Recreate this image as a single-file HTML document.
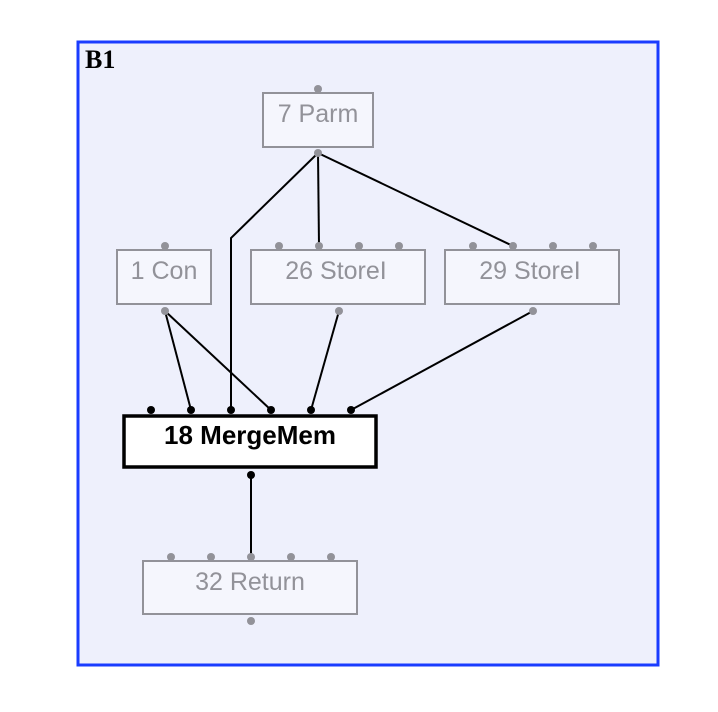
<!DOCTYPE html>
<html><head><meta charset="utf-8"><style>
html,body{margin:0;padding:0;background:#fff;width:718px;height:712px;overflow:hidden}
text{font-family:"Liberation Sans",sans-serif}
</style></head><body>
<svg width="718" height="712" xmlns="http://www.w3.org/2000/svg">
<rect x="78" y="42" width="580" height="623" fill="#eef0fc" stroke="#1a3cff" stroke-width="3"/>
<text x="85" y="68" font-weight="bold" font-size="26" style="font-family:'Liberation Serif',serif">B1</text>
<g stroke="#000" stroke-width="2" fill="none">
<polyline points="318,153 231,238 231,410"/>
<line x1="318" y1="153" x2="319" y2="246"/>
<line x1="318" y1="153" x2="513" y2="246"/>
<line x1="165" y1="311" x2="191" y2="410"/>
<line x1="165" y1="311" x2="271" y2="410"/>
<line x1="339" y1="311" x2="311" y2="410"/>
<line x1="533" y1="311" x2="351" y2="410"/>
<line x1="251" y1="475" x2="251" y2="557"/>
</g>
<g fill="#f5f6fd" stroke="#929299" stroke-width="2">
<rect x="263" y="93" width="110" height="54"/>
<rect x="117" y="250" width="94" height="54"/>
<rect x="251" y="250" width="174" height="54"/>
<rect x="445" y="250" width="174" height="54"/>
<rect x="143" y="561" width="214" height="53"/>
</g>
<rect x="124" y="416" width="252" height="51" fill="#fff" stroke="#000" stroke-width="3.5"/>
<g fill="#929299">
<circle cx="318" cy="89" r="4"/><circle cx="318" cy="153" r="4"/>
<circle cx="165" cy="246" r="4"/><circle cx="165" cy="311" r="4"/>
<circle cx="279" cy="246" r="4"/><circle cx="319" cy="246" r="4"/><circle cx="359" cy="246" r="4"/><circle cx="399" cy="246" r="4"/><circle cx="339" cy="311" r="4"/>
<circle cx="473" cy="246" r="4"/><circle cx="513" cy="246" r="4"/><circle cx="553" cy="246" r="4"/><circle cx="593" cy="246" r="4"/><circle cx="533" cy="311" r="4"/>
<circle cx="171" cy="557" r="4"/><circle cx="211" cy="557" r="4"/><circle cx="251" cy="557" r="4"/><circle cx="291" cy="557" r="4"/><circle cx="331" cy="557" r="4"/><circle cx="251" cy="621" r="4"/>
</g>
<g fill="#000">
<circle cx="151" cy="410" r="4"/><circle cx="191" cy="410" r="4"/><circle cx="231" cy="410" r="4"/><circle cx="271" cy="410" r="4"/><circle cx="311" cy="410" r="4"/><circle cx="351" cy="410" r="4"/>
<circle cx="251" cy="475" r="4"/>
</g>
<g fill="#929299" font-size="25" text-anchor="middle">
<text x="318" y="122">7 Parm</text>
<text x="164" y="279">1 Con</text>
<text x="336" y="279">26 StoreI</text>
<text x="530" y="279">29 StoreI</text>
<text x="250" y="590">32 Return</text>
</g>
<text x="250" y="444" font-size="26" font-weight="bold" text-anchor="middle" fill="#000">18 MergeMem</text>
</svg>
</body></html>
